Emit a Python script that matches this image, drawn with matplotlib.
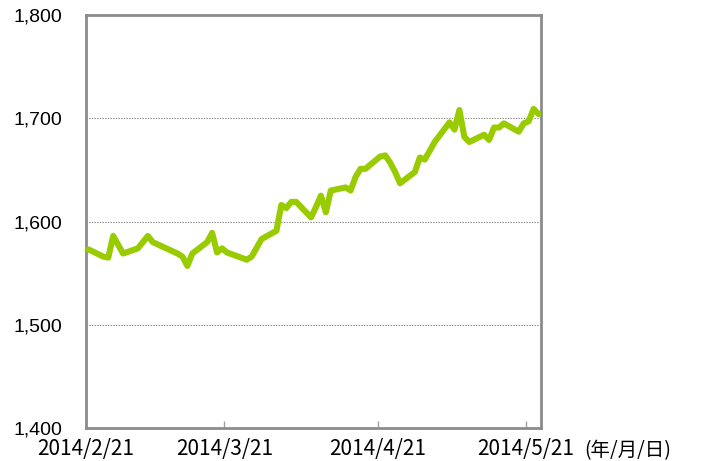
import matplotlib
matplotlib.use("Agg")
import matplotlib.pyplot as plt
import datetime as dt

dates = ["2014-02-21", "2014-02-24", "2014-02-25", "2014-02-26", "2014-02-28",
         "2014-03-03", "2014-03-05", "2014-03-06", "2014-03-11", "2014-03-12",
         "2014-03-13", "2014-03-14", "2014-03-17", "2014-03-18", "2014-03-19",
         "2014-03-20", "2014-03-21", "2014-03-25", "2014-03-26", "2014-03-28",
         "2014-03-31", "2014-04-01", "2014-04-02", "2014-04-03", "2014-04-04",
         "2014-04-07", "2014-04-08", "2014-04-09", "2014-04-10", "2014-04-11",
         "2014-04-14", "2014-04-15", "2014-04-16", "2014-04-17", "2014-04-18",
         "2014-04-21", "2014-04-22", "2014-04-23", "2014-04-24", "2014-04-25",
         "2014-04-28", "2014-04-29", "2014-04-30", "2014-05-02", "2014-05-05",
         "2014-05-06", "2014-05-07", "2014-05-08", "2014-05-09", "2014-05-12",
         "2014-05-13", "2014-05-14", "2014-05-15", "2014-05-16", "2014-05-19",
         "2014-05-20", "2014-05-21", "2014-05-22", "2014-05-23"]
values = [1573, 1566, 1565, 1586, 1569,
          1574, 1586, 1580, 1569, 1566,
          1557, 1569, 1580, 1589, 1570,
          1574, 1570, 1563, 1566, 1583,
          1591, 1616, 1613, 1619, 1619,
          1604, 1614, 1625, 1609, 1630,
          1633, 1630, 1643, 1651, 1651,
          1663, 1664, 1657, 1648, 1637,
          1648, 1662, 1660, 1677, 1696,
          1689, 1708, 1682, 1677, 1684,
          1679, 1691, 1691, 1695, 1687,
          1695, 1697, 1709, 1704]

x_ticks = ["2014-02-21", "2014-03-21", "2014-04-21", "2014-05-21"]
x_tick_labels = ["2014/2/21", "2014/3/21", "2014/4/21", "2014/5/21"]
y_ticks = [1400, 1500, 1600, 1700, 1800]
y_tick_labels = ["1,400", "1,500", "1,600", "1,700", "1,800"]
x_unit_label = "(年/月/日)"

W, H = 709, 461
fig = plt.figure(figsize=(W / 100, H / 100), dpi=100)
ax = fig.add_axes([86 / W, (H - 428) / H, (541 - 86) / W, (428 - 15) / H])

xd = [dt.datetime.strptime(d, "%Y-%m-%d") + dt.timedelta(hours=12) for d in dates]
ax.plot(xd, values, color="#99cc00", linewidth=4.4, solid_joinstyle="round",
        solid_capstyle="round", zorder=3)

ax.set_xlim(dt.datetime(2014, 2, 21), dt.datetime(2014, 5, 24))
ax.set_ylim(1400, 1800)

ax.set_yticks(y_ticks)
ax.set_yticklabels(y_tick_labels, family=["Liberation Sans", "DejaVu Sans"], fontsize=14)
ax.tick_params(axis="y", length=0, pad=17)

xt = [dt.datetime.strptime(d, "%Y-%m-%d") for d in x_ticks]
ax.set_xticks(xt)
ax.set_xticklabels(x_tick_labels, family=["Noto Sans CJK JP", "DejaVu Sans"], fontsize=15)
ax.tick_params(axis="x", direction="in", length=5, width=1, color="#a0a0a0", pad=7)

for yv in y_ticks[1:-1]:
    ax.axhline(yv, color="#8c8c8c", linewidth=0.8, linestyle=(0, (1.2, 1.2)), zorder=1)

for s in ax.spines.values():
    s.set_color("#8c8c8c")
    s.set_linewidth(2)

fig.text(584 / W, 0.0, x_unit_label, family=["Noto Sans CJK JP", "DejaVu Sans"],
         fontsize=14, va="bottom", ha="left")

fig.savefig("out.png", dpi=100)
